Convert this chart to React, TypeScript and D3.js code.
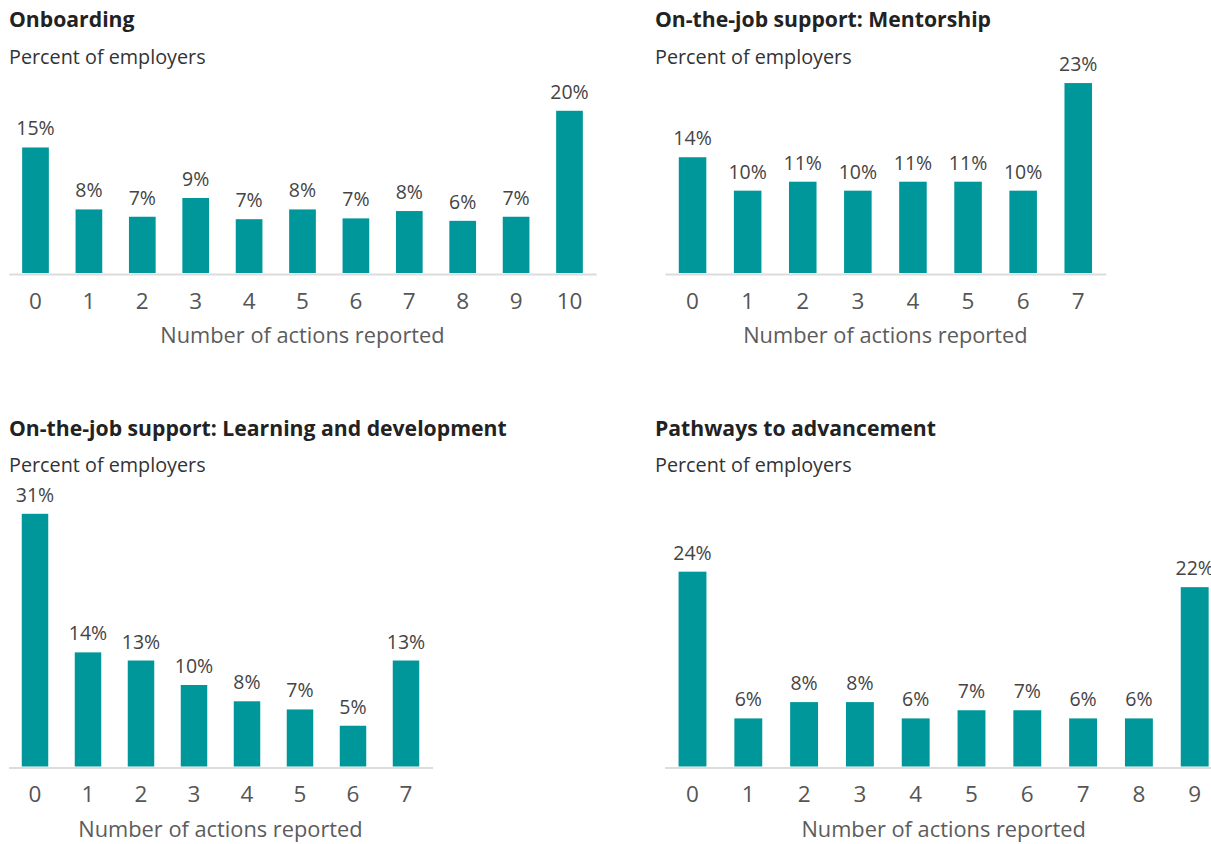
import * as d3 from 'd3'
import { useEffect, useRef } from 'react'

// number of actions reported (x categories)
const onboardingTicks = ['0', '1', '2', '3', '4', '5', '6', '7', '8', '9', '10']
const mentorshipTicks = ['0', '1', '2', '3', '4', '5', '6', '7']
const learningTicks = ['0', '1', '2', '3', '4', '5', '6', '7']
const pathwaysTicks = ['0', '1', '2', '3', '4', '5', '6', '7', '8', '9']

// percent of employers
const onboardingValues = [15.4, 7.8, 6.9, 9.2, 6.6, 7.8, 6.7, 7.6, 6.4, 6.9, 19.9]
const mentorshipValues = [14.2, 10.1, 11.2, 10.1, 11.2, 11.2, 10.1, 23.3]
const learningValues = [31.0, 14.0, 13.0, 10.0, 8.0, 7.0, 5.0, 13.0]
const pathwaysValues = [23.9, 5.9, 7.9, 7.9, 5.9, 6.9, 6.9, 5.9, 5.9, 22.0]

const titles = [
    'Onboarding',
    'On-the-job support: Mentorship',
    'On-the-job support: Learning and development',
    'Pathways to advancement',
]
const subtitle = 'Percent of employers'
const xTitle = 'Number of actions reported'

const font = '"Open Sans", Roboto, sans-serif'
const teal = '#00979a'

type Panel = {
    title: string
    ticks: string[]
    values: number[]
    x0: number
    x1: number
    titleY: number
    baseline: number
}

export default function App() {
    const svgRef = useRef<SVGSVGElement>(null)

    useEffect(() => {
        makeChart(svgRef)
    }, [])

    function makeChart(svgRef: React.RefObject<SVGSVGElement>) {
        const width = 1211
        const height = 844

        const svg = d3.select(svgRef.current).attr('width', width).attr('height', height)
        svg.selectAll('*').remove()

        const panels: Panel[] = [
            { title: titles[0], ticks: onboardingTicks, values: onboardingValues, x0: 8.8, x1: 596.2, titleY: 27.3, baseline: 273 },
            { title: titles[1], ticks: mentorshipTicks, values: mentorshipValues, x0: 665, x1: 1105.8, titleY: 27.3, baseline: 273 },
            { title: titles[2], ticks: learningTicks, values: learningValues, x0: 8.5, x1: 432.5, titleY: 435.7, baseline: 766.5 },
            { title: titles[3], ticks: pathwaysTicks, values: pathwaysValues, x0: 664.6, x1: 1222.6, titleY: 435.7, baseline: 766.5 },
        ]

        panels.forEach(p => {
            const g = svg.append('g')

            const xScale = d3.scaleBand().domain(p.ticks).range([p.x0, p.x1]).paddingInner(0.5).paddingOuter(0.25)
            // same px-per-percent in every panel
            const yScale = d3.scaleLinear().domain([0, 31]).range([p.baseline, p.baseline - 252.7])

            const left = p.x0 < 100 ? 9 : 655

            g.append('text')
                .text(p.title)
                .attr('x', left)
                .attr('y', p.titleY)
                .attr('font-family', font)
                .attr('font-weight', 700)
                .attr('font-size', 21.2)
                .attr('fill', '#222')

            g.append('text')
                .text(subtitle)
                .attr('x', left)
                .attr('y', p.titleY + 36.5)
                .attr('font-family', font)
                .attr('font-size', 19.8)
                .attr('fill', '#333')

            const data = p.ticks.map((t, i) => ({ key: t, value: p.values[i] }))

            g.append('g').selectAll('rect')
                .data(data)
                .enter()
                .append('rect')
                .attr('x', d => xScale(d.key)!)
                .attr('width', xScale.bandwidth())
                .attr('y', d => yScale(d.value))
                .attr('height', d => yScale(0) - yScale(d.value))
                .attr('fill', teal)

            g.append('g').selectAll('text')
                .data(data)
                .enter()
                .append('text')
                .text(d => Math.round(d.value) + '%')
                .attr('x', d => xScale(d.key)! + xScale.bandwidth() / 2)
                .attr('y', d => yScale(d.value) - 12)
                .attr('text-anchor', 'middle')
                .attr('font-family', font)
                .attr('font-size', 19.5)
                .attr('fill', '#444')

            const bottomAxis = d3.axisBottom(xScale).tickSize(0).tickSizeOuter(0)
            const axis = g.append('g').attr('transform', `translate(0, ${p.baseline + 1})`).call(bottomAxis)
            axis.select('.domain').attr('stroke', '#dcdcdc').attr('stroke-width', 2)
            axis.selectAll('.tick text')
                .attr('dy', null)
                .attr('y', 34.5)
                .attr('font-family', font)
                .attr('font-size', 22.5)
                .attr('fill', '#555')

            g.append('text')
                .text(xTitle)
                .attr('x', (p.x0 + p.x1) / 2)
                .attr('y', p.baseline + 70)
                .attr('text-anchor', 'middle')
                .attr('font-family', font)
                .attr('font-size', 21.8)
                .attr('fill', '#5c5c5c')
        })
    }

    return (
        <svg ref={svgRef} style={{ position: 'absolute', left: 0, top: 0, display: 'block' }}></svg>
    )
}
